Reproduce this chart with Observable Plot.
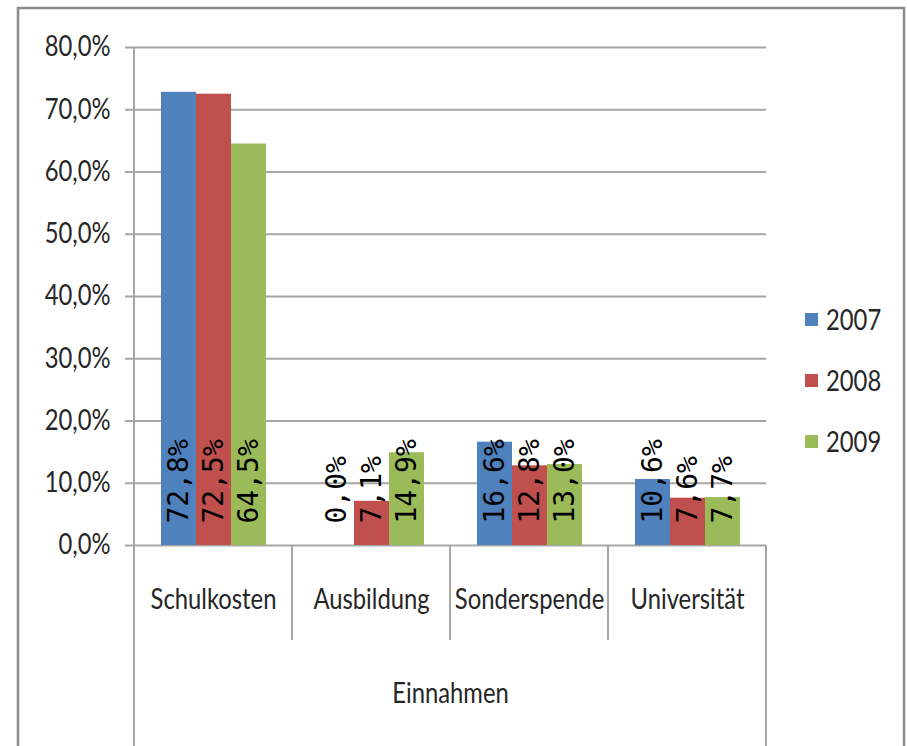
<!DOCTYPE html>
<html><head><meta charset="utf-8">
<script src="https://cdn.jsdelivr.net/npm/d3@7"></script>
<script src="https://cdn.jsdelivr.net/npm/@observablehq/plot@0.6"></script>
<style>body{margin:0;background:#fff} svg{display:block}</style>
</head><body><div id="chart"></div>
<script>
const categories = ["Schulkosten", "Ausbildung", "Sonderspende", "Universität"];
const years = ["2007", "2008", "2009"];
const v2007 = [72.8, 0.0, 16.6, 10.6];
const v2008 = [72.5, 7.1, 12.8, 7.6];
const v2009 = [64.5, 14.9, 13.0, 7.7];
const yTicks = [0, 10, 20, 30, 40, 50, 60, 70, 80];
const groupLabel = "Einnahmen";
const colors = ["#4F81BD", "#C0504D", "#9BBB59"];

const series = [v2007, v2008, v2009];
const data = [];
categories.forEach((c, i) => years.forEach((y, j) => data.push({cat: c, year: y, value: series[j][i]})));
const fmt = v => v.toFixed(1).replace(".", ",") + "%";
const LABEL_FONT = "Lato, 'Open Sans', sans-serif";
const GRID = "#a6a6a6";
const SQUEEZE = " scale(0.85,1)";

const plot = Plot.plot({
  width: 907, height: 746,
  marginLeft: 134, marginRight: 141, marginTop: 47, marginBottom: 201,
  style: {fontFamily: LABEL_FONT, background: "white", overflow: "visible"},
  fx: {domain: categories, padding: 0, label: null},
  x: {domain: years, paddingInner: 0, paddingOuter: 0.757, axis: null},
  y: {domain: [0, 80], label: null},
  color: {domain: years, range: colors},
  marks: [
    Plot.gridY(yTicks, {stroke: GRID, strokeOpacity: 1, strokeWidth: 2}),
    Plot.barY(data, {fx: "cat", x: "year", y: "value", fill: "year"}),
    Plot.text(data, {fx: "cat", x: "year", y: 0, text: d => fmt(d.value), rotate: -90, textAnchor: "start", dy: -22, fontSize: 28, fontFamily: "DejaVu Sans Mono", fill: "#000"}),
    Plot.axisY(yTicks, {tickSize: 9, tickPadding: 15, tickFormat: fmt, fontSize: 28, stroke: GRID, strokeWidth: 2, fill: "#262626", label: null}),
    Plot.axisFx({anchor: "bottom", tickSize: 0, tickPadding: 44, fontSize: 28, fill: "#262626", label: groupLabel, labelAnchor: "center", labelOffset: 157})
  ]
});
document.getElementById("chart").appendChild(plot);

const svg = d3.select(plot);
// condense axis texts (Calibri-like narrow look)
svg.selectAll('g[aria-label*="axis"] text').each(function () {
  const t = this.getAttribute("transform");
  if (t) this.setAttribute("transform", t + SQUEEZE);
});

const ys = plot.scale("y");
const fxs = plot.scale("fx");
const col = plot.scale("color");
const y0 = ys.apply(0), yTop = ys.apply(80);
const starts = categories.map(c => fxs.apply(c));
const bw = fxs.bandwidth ?? (starts[1] - starts[0]);
const edges = [...starts, starts[starts.length - 1] + bw];
const g = svg.append("g").attr("stroke", GRID).attr("stroke-width", 2);
edges.forEach((x, i) => {
  const outer = i === 0 || i === edges.length - 1;
  g.append("line").attr("x1", x).attr("x2", x)
    .attr("y1", i === 0 ? yTop : y0)
    .attr("y2", outer ? 746 : 640);
});
// legend
const lg = svg.append("g");
years.forEach((yr, i) => {
  const cy = 320 + i * 61;
  lg.append("rect").attr("x", 805).attr("y", cy - 7).attr("width", 13).attr("height", 13).attr("fill", col.apply(yr));
  lg.append("text").attr("transform", `translate(826,${cy})` + SQUEEZE).attr("dy", "0.35em")
    .attr("text-anchor", "start")
    .attr("font-size", 28).attr("font-family", LABEL_FONT).attr("fill", "#262626").text(yr);
});
// border
svg.append("rect").attr("x", 18).attr("y", 8).attr("width", 886).attr("height", 760)
  .attr("fill", "none").attr("stroke", "#8c8c8c").attr("stroke-width", 2.5);
</script>
</body></html>
